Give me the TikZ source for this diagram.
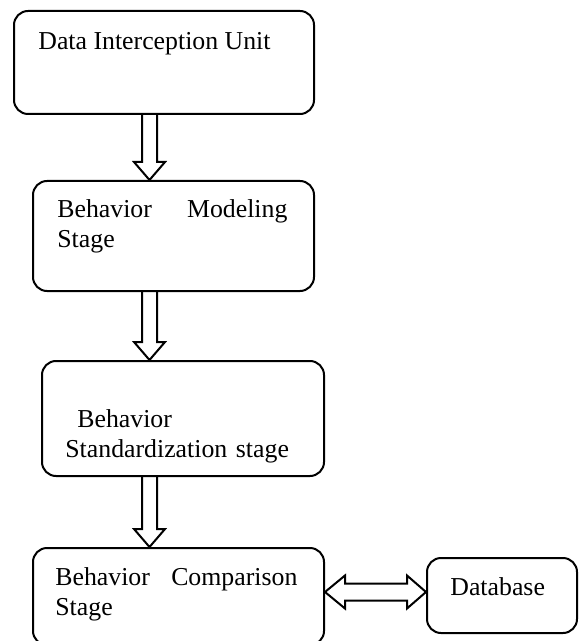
\documentclass[tikz,border=0pt]{standalone}
\usepackage{fontspec}
\setmainfont{Liberation Serif}
\usetikzlibrary{calc}

\tikzset{
 stagebox/.style={draw, rounded corners=7pt, line width=1pt, inner sep=0, anchor=north west},
 stagetext/.style={anchor=base west, inner sep=0, align=left, font=\fontsize{12.9}{15}\selectfont},
 blockarrow/.style={draw, line width=1pt, line join=miter}
}
\newcommand{\downblock}[2]{%
 \coordinate (arrtop) at (#1);
 \coordinate (arrtip) at (#2);
 \draw[blockarrow] ($(arrtop)+(-7.5,0)$) -- ($(arrtip)+(-7.5,-18)$) -- ($(arrtip)+(-15.5,-18)$) -- (arrtip)
   -- ($(arrtip)+(15.5,-18)$) -- ($(arrtip)+(7.5,-18)$) -- ($(arrtop)+(7.5,0)$);
}
\newcommand{\bothblock}[2]{%
 \coordinate (arrleft) at (#1);
 \coordinate (arrright) at (#2);
 \draw[blockarrow] (arrleft) -- ($(arrleft)+(20,-16.5)$) -- ($(arrleft)+(20,-8.5)$) -- ($(arrright)+(-19,-8.5)$)
   -- ($(arrright)+(-19,-16.5)$) -- (arrright) -- ($(arrright)+(-19,16.5)$) -- ($(arrright)+(-19,8.5)$)
   -- ($(arrleft)+(20,8.5)$) -- ($(arrleft)+(20,16.5)$) -- cycle;
}

\begin{document}
\begin{tikzpicture}[x=.5pt, y=-.5pt]
\useasboundingbox (0,0) rectangle (578,641);
\node[stagebox, minimum width=150pt, minimum height=51.5pt] (unit) at (13,10) {};
\node[stagebox, minimum width=140.5pt, minimum height=55pt] (modeling) at (32,180) {};
\node[stagebox, minimum width=141pt, minimum height=57.5pt] (standard) at (41,360) {};
\node[stagebox, minimum width=145.5pt, minimum height=48.5pt] (comparison) at (32,547) {};
\node[stagebox, minimum width=75pt, minimum height=37.5pt] (database) at (426,557) {};

\node[stagetext] (unittxt) at (38,50) {Data Interception Unit};
\node[stagetext, text width=115pt] (modelingtxt) at (57,218) {Behavior\hfill Modeling\\Stage};
\node[stagetext, text width=115pt] (standardtxt) at (65,427) {\hspace*{6pt}Behavior\\Standardization stage};
\node[stagetext, text width=121pt] (comparisontxt) at (55,585) {Behavior\hfill Comparison\\Stage};
\node[stagetext] (databasetxt) at (450,595) {Database};

\coordinate (ax) at (149.5,0);
\coordinate (ay) at (0,592);
\downblock{unit.south -| ax}{modeling.north -| ax}
\downblock{modeling.south -| ax}{standard.north -| ax}
\downblock{standard.south -| ax}{comparison.north -| ax}
\bothblock{comparison.east |- ay}{database.west |- ay}
\end{tikzpicture}
\end{document}
